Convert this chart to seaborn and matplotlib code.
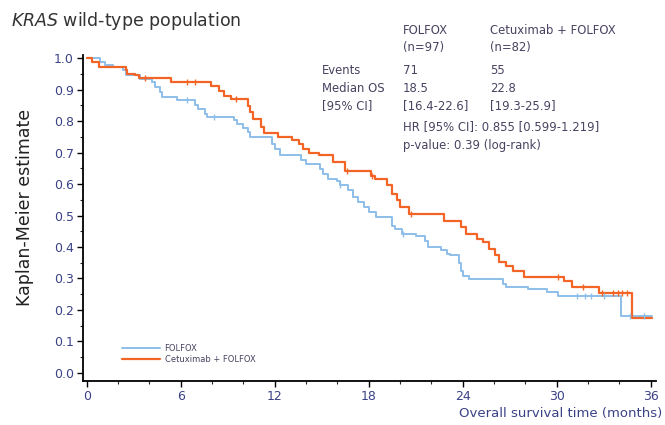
import matplotlib
matplotlib.use('Agg')
import matplotlib.pyplot as plt
import numpy as np
import pandas as pd
import seaborn as sns

sns.set_style('white')
plt.rcParams['font.family'] = ['DejaVu Sans']

# Kaplan-Meier step curves (months, survival)
folfox_t = [0, 0.83, 1.15, 1.7, 2.3, 2.5, 3.4, 4.15, 4.35, 4.7, 4.8, 5.75, 6.9, 7.1, 7.56, 7.67,
            9.38, 9.6, 10.0, 10.3, 10.45, 11.8, 12.0, 12.35, 13.7, 14.0, 14.9, 15.1, 15.4, 15.95,
            16.2, 16.7, 17.0, 17.3, 17.7, 18.05, 18.5, 19.5, 19.7, 20.1, 21.0, 21.6, 21.8, 22.6,
            23.0, 23.2, 23.8, 23.9, 24.0, 24.4, 26.6, 26.8, 28.2, 29.4, 30.1, 34.1, 36.1]
folfox_s = [1.0, 0.988, 0.978, 0.972, 0.962, 0.946, 0.935, 0.925, 0.909, 0.893, 0.877, 0.866, 0.85,
            0.84, 0.824, 0.813, 0.803, 0.792, 0.779, 0.765, 0.749, 0.728, 0.712, 0.691, 0.675, 0.665,
            0.649, 0.632, 0.617, 0.611, 0.596, 0.58, 0.558, 0.542, 0.526, 0.51, 0.495, 0.468, 0.457,
            0.442, 0.436, 0.42, 0.399, 0.389, 0.378, 0.373, 0.35, 0.325, 0.309, 0.298, 0.282, 0.272,
            0.267, 0.256, 0.245, 0.182, 0.182]

cetux_t = [0, 0.34, 0.77, 2.48, 2.6, 3.1, 3.33, 5.36, 7.93, 8.46, 8.78, 9.2, 10.28, 10.45, 10.6,
           11.1, 11.3, 12.2, 13.1, 13.55, 13.8, 14.2, 14.8, 15.7, 16.5, 18.14, 18.4, 19.2, 19.5,
           19.8, 20.0, 20.6, 22.8, 23.9, 24.2, 24.9, 25.3, 25.7, 26.05, 26.35, 26.8, 27.2, 27.9,
           30.5, 31.0, 32.7, 34.8, 36.1]
cetux_s = [1.0, 0.987, 0.971, 0.961, 0.95, 0.945, 0.936, 0.924, 0.913, 0.897, 0.881, 0.87, 0.849,
           0.828, 0.807, 0.78, 0.762, 0.749, 0.739, 0.728, 0.712, 0.70, 0.691, 0.67, 0.643, 0.627,
           0.617, 0.596, 0.569, 0.548, 0.526, 0.505, 0.484, 0.463, 0.442, 0.426, 0.415, 0.394, 0.373,
           0.351, 0.341, 0.325, 0.304, 0.293, 0.272, 0.254, 0.173, 0.173]

folfox_cens = [6.4, 8.1, 16.2, 20.2, 31.3, 31.8, 32.2, 33.0, 34.7, 35.6]
cetux_cens = [3.7, 6.4, 6.9, 9.5, 16.6, 18.2, 20.7, 30.1, 31.7, 32.9, 33.6, 33.9, 34.2, 34.5]

x_ticks = [0, 6, 12, 18, 24, 30, 36]
y_ticks = [0.0, 0.1, 0.2, 0.3, 0.4, 0.5, 0.6, 0.7, 0.8, 0.9, 1.0]

blue = '#8dbfea'
orange = '#f26526'
navy = '#3a4286'
txt = '#4a4260'

fig = plt.figure(figsize=(6.65, 4.25), dpi=100)
ax = fig.add_axes([0.1248, 0.1035, 0.8617, 0.767])

df_f = pd.DataFrame({'t': folfox_t, 's': folfox_s})
df_c = pd.DataFrame({'t': cetux_t, 's': cetux_s})
sns.lineplot(data=df_f, x='t', y='s', drawstyle='steps-post', estimator=None, sort=False,
             color=blue, lw=1.4, label='FOLFOX', ax=ax)
sns.lineplot(data=df_c, x='t', y='s', drawstyle='steps-post', estimator=None, sort=False,
             color=orange, lw=1.6, label='Cetuximab + FOLFOX', ax=ax)

# censor ticks sit on the curve
def at(ts, ss, c):
    i = np.searchsorted(ts, c, side='right') - 1
    return np.array(ss)[i]

ax.scatter(folfox_cens, at(folfox_t, folfox_s, folfox_cens), marker='|', s=22, color=blue, lw=1.0, zorder=3)
ax.scatter(cetux_cens, at(cetux_t, cetux_s, cetux_cens), marker='|', s=22, color=orange, lw=1.0, zorder=3)

ax.set_xlim(-0.24, 36.35)
ax.set_ylim(-0.026, 1.01)
ax.set_xticks(x_ticks)
ax.set_xticks(np.arange(0, 37, 2), minor=True)
ax.set_yticks(y_ticks)
ax.set_yticks(np.arange(0, 1.01, 0.05), minor=True)
ax.set_yticklabels([f'{v:.1f}' for v in y_ticks])
ax.tick_params(axis='both', which='major', direction='out', length=4, width=1, colors='black',
               labelcolor=navy, labelsize=9, bottom=True, left=True, pad=2.5)
ax.tick_params(axis='both', which='minor', direction='out', length=2.5, width=0.8,
               bottom=True, left=True)
for s in ['top', 'right']:
    ax.spines[s].set_visible(False)
for s in ['left', 'bottom']:
    ax.spines[s].set_color('black')
    ax.spines[s].set_linewidth(1.3)
ax.set_xlabel('')
ax.set_ylabel('')

leg = ax.legend(loc='lower left', bbox_to_anchor=(0.055, 0.028), frameon=False, fontsize=6,
                handlelength=4.5, labelspacing=0.3, handletextpad=0.6)
for t in leg.get_texts():
    t.set_color(txt)

W, H = 665, 425
def ftext(x, y, s, **kw):
    fig.text(x / W, 1 - y / H, s, va='center', **kw)

ftext(11, 21, r'$\it{KRAS}$ wild-type population', fontsize=12.5, color='#333333')
fig.text(25 / W, 1 - 207 / H, 'Kaplan-Meier estimate', rotation=90, ha='center', va='center',
         fontsize=12.5, color='#222222')
ftext(662, 413, 'Overall survival time (months)', ha='right', fontsize=9.5, color=navy)

fs = 8.4
ftext(403, 30, 'FOLFOX', fontsize=fs, color=txt)
ftext(403, 48, '(n=97)', fontsize=fs, color=txt)
ftext(490, 30, 'Cetuximab + FOLFOX', fontsize=fs, color=txt)
ftext(490, 48, '(n=82)', fontsize=fs, color=txt)
ftext(322, 70, 'Events', fontsize=fs, color=txt)
ftext(322, 88, 'Median OS', fontsize=fs, color=txt)
ftext(322, 106, '[95% CI]', fontsize=fs, color=txt)
ftext(403, 71, '71', fontsize=fs, color=txt)
ftext(403, 88, '18.5', fontsize=fs, color=txt)
ftext(403, 106, '[16.4-22.6]', fontsize=fs, color=txt)
ftext(490, 71, '55', fontsize=fs, color=txt)
ftext(490, 88, '22.8', fontsize=fs, color=txt)
ftext(490, 106, '[19.3-25.9]', fontsize=fs, color=txt)
ftext(403, 127, 'HR [95% CI]: 0.855 [0.599-1.219]', fontsize=fs, color=txt)
ftext(403, 145, 'p-value: 0.39 (log-rank)', fontsize=fs, color=txt)

fig.savefig('out.png', dpi=100)
